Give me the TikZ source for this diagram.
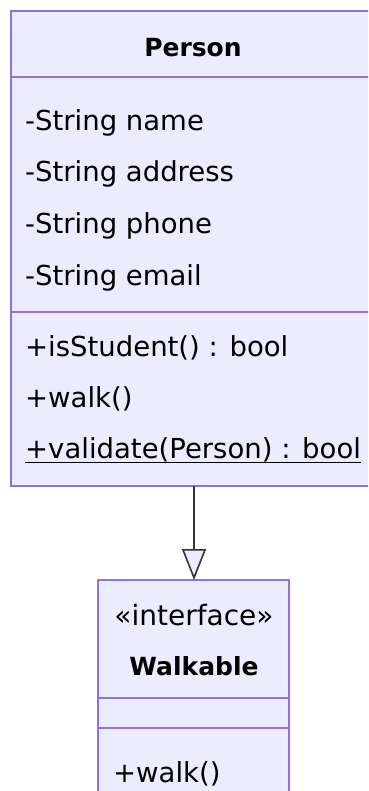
\documentclass[tikz,border=0pt]{standalone}
\usepackage{fontspec}
\setmainfont{DejaVu Sans}
\usetikzlibrary{arrows.meta}
\definecolor{lavfill}{HTML}{ECECFF}
\definecolor{lavline}{HTML}{9370DB}
\definecolor{edgecol}{HTML}{333333}
\tikzset{
  classbox/.style={draw=lavline, fill=lavfill, line width=1.8pt},
  divider/.style={draw=lavline, line width=1.8pt},
  member/.style={anchor=base west, inner sep=0pt, font=\fontsize{27.5}{32}\selectfont, text=black},
  title/.style={anchor=base, inner sep=0pt, font=\fontsize{25}{30}\selectfont\bfseries, text=black},
  stereo/.style={anchor=base, inner sep=0pt, font=\fontsize{28}{32}\selectfont, text=black},
  inherit/.style={draw=edgecol, line width=1.6pt, -{Triangle[open, length=31pt, width=24pt, fill=lavfill, line width=1.6pt]}}
}
\begin{document}
\begin{tikzpicture}[x=1pt, y=-1pt]
\useasboundingbox (0,0) rectangle (368,791);
\clip (0,0) rectangle (368,791);
\fill[white] (0,0) rectangle (368,791);
% Person class
\draw[classbox] (11,11) rectangle (376,486);
\coordinate (personS) at (194,486);
\draw[divider] (11,77) -- (376,77);
\draw[divider] (11,312) -- (376,312);
\node[title] (ptitle) at (193,57) {Person};
\node[member] (a1) at (25,131) {-String name};
\node[member] (a2) at (25,182) {-String address};
\node[member] (a3) at (25,234) {-String phone};
\node[member] (a4) at (25,285) {-String email};
\node[member] (m1) at (25,356) {+isStudent() : bool};
\node[member] (m2) at (25,407) {+walk()};
\node[member] (m3) at (25,458) {+validate(Person) : bool};
\draw[black, line width=1.2pt] ([yshift=-4.5pt]m3.base west) -- ([yshift=-4.5pt]m3.base east);
% Walkable interface
\draw[classbox] (98,580) rectangle (289,840);
\coordinate (walkN) at (194,580);
\draw[divider] (98,698) -- (289,698);
\draw[divider] (98,728) -- (289,728);
\node[stereo] (st) at (194,625) {«interface»};
\node[title] (wtitle) at (194,675) {Walkable};
\node[member] (w1) at (113,782) {+walk()};
% inheritance
\draw[inherit] (personS) -- (walkN);
\end{tikzpicture}
\end{document}
